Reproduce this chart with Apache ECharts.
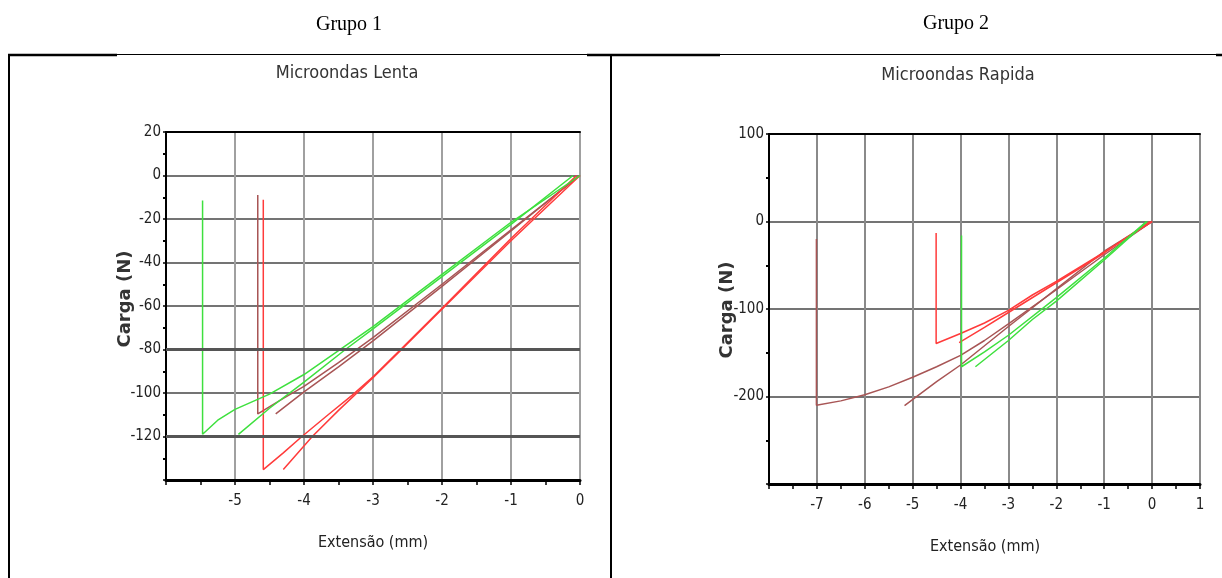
<!DOCTYPE html>
<html><head><meta charset="utf-8">
<script src="https://cdn.jsdelivr.net/npm/echarts@6/dist/echarts.min.js"></script>
<style>html,body{margin:0;padding:0;background:#fff}#c{width:1222px;height:578px}</style>
</head><body><div id="c"></div>
<script>
// ---- Data: Microondas Lenta (Grupo 1) [extensão mm, carga N] ----
const lentaGreenA = [[0,0],[-1,-21.5],[-2,-45.5],[-3,-69.5],[-3.5,-80.5],[-4,-91.5],[-4.5,-100.5],[-5,-107.5],[-5.25,-112.5],[-5.47,-119],[-5.47,-11.5]];
const lentaGreenB = [[-0.1,0],[-1,-22.5],[-2,-46.5],[-3,-70.5],[-3.4,-80],[-4,-95],[-4.5,-107],[-4.95,-119]];
const lentaBrownA = [[0,0],[-1,-25],[-2,-50],[-3,-74.5],[-3.5,-86],[-4,-97],[-4.3,-102.5],[-4.67,-109.6],[-4.67,-9]];
const lentaBrownB = [[-0.05,-1],[-1,-25.5],[-2,-51],[-3,-76],[-3.5,-88],[-4,-99.5],[-4.41,-109.6]];
const lentaRedA = [[-0.05,0],[-1,-29],[-2,-61],[-2.6,-80],[-3,-92.5],[-3.3,-101],[-3.65,-110],[-4.03,-120],[-4.3,-127.5],[-4.59,-135.2],[-4.59,-11.2]];
const lentaRedB = [[0,0],[-1,-30],[-2,-61.5],[-2.6,-80.5],[-3,-93],[-3.5,-108],[-3.88,-120],[-4.3,-135.2]];
// ---- Data: Microondas Rapida (Grupo 2) ----
const rapidaBrownA = [[0,0],[-1,-38],[-2,-78],[-3,-117],[-3.5,-136],[-4,-153],[-4.5,-166],[-5,-178],[-5.5,-189],[-6,-198],[-6.5,-205],[-7.01,-210],[-7.01,-20]];
const rapidaBrownB = [[0,0],[-1,-34],[-2,-77],[-3,-120],[-4,-164],[-4.5,-183],[-5.17,-210.5]];
const rapidaRedA = [[0,0],[-1,-35],[-2,-68.5],[-2.5,-84],[-3,-101.5],[-3.5,-116],[-4,-128],[-4.51,-139.5],[-4.51,-13]];
const rapidaRedB = [[-0.05,0],[-1,-36],[-2,-70],[-3,-104],[-3.5,-121],[-4.03,-138.4]];
const rapidaGreenA = [[-0.12,0],[-1,-42],[-2,-87],[-3,-130],[-3.5,-149],[-3.98,-166],[-3.98,-16]];
const rapidaGreenB = [[-0.1,0],[-1,-44],[-2,-91],[-2.5,-112],[-3,-136],[-3.69,-166]];
// ---- Texts ----
const groupTitles = ['Grupo 1','Grupo 2'];
const chartTitles = ['Microondas Lenta','Microondas Rapida'];
const xName = 'Extensão (mm)';
const yName = 'Carga (N)';
const lentaThickLines = [-80,-120];

const GREEN = '#3ee03e', RED = '#ff3b3b', BROWN = '#a85555';
const NARROW = "'Liberation Sans Narrow','DejaVu Sans Condensed','DejaVu Sans',sans-serif";

function hideMin(min){ return function(v){ return v === min ? '' : String(v); }; }

function xAx(gi, min, max, splitColor){
  return {type:'value', gridIndex:gi, min:min, max:max, interval:1, position:'bottom',
    axisLine:{show:true, onZero:false, lineStyle:{color:'#000', width:3}},
    axisTick:{show:true, length:5, lineStyle:{color:'#000', width:1.5}},
    minorTick:{show:true, splitNumber:2, length:5, lineStyle:{color:'#000', width:1.5}},
    splitLine:{show:true, lineStyle:{color:splitColor, width:2}},
    axisLabel:{margin:14, color:'#222', fontFamily:NARROW, fontSize:15, formatter:hideMin(min)}};
}
function xTop(gi, min, max){
  return {type:'value', gridIndex:gi, min:min, max:max, interval:1, position:'top',
    axisLine:{show:true, onZero:false, lineStyle:{color:'#000', width:2}},
    axisTick:{show:false}, axisLabel:{show:false}, splitLine:{show:false}};
}
function yAx(gi, min, max, interval, splitColor){
  return {type:'value', gridIndex:gi, min:min, max:max, interval:interval,
    axisLine:{show:true, onZero:false, lineStyle:{color:'#000', width:2}},
    axisTick:{show:true, length:3, lineStyle:{color:'#000', width:1.5}},
    minorTick:{show:true, splitNumber:2, length:3, lineStyle:{color:'#000', width:2}},
    splitLine:{show:true, lineStyle:{color:splitColor, width:2}},
    axisLabel:{margin:5, color:'#222', fontFamily:NARROW, fontSize:15, formatter:hideMin(min)}};
}
function line(data, color, xi, yi, extra){
  return Object.assign({type:'line', data:data, xAxisIndex:xi, yAxisIndex:yi, showSymbol:false, symbol:'none',
    lineStyle:{color:color, width:1.5}, itemStyle:{color:color}, silent:true, animation:false}, extra||{});
}

const option = {
  animation:false,
  backgroundColor:'#fff',
  grid:[
    {left:166, top:132, width:414, height:348},
    {left:769, top:134, width:431, height:350}
  ],
  xAxis:[ xAx(0,-6,0,'#a0a0a0'), xTop(0,-6,0), xAx(1,-8,1,'#8a8a8a'), xTop(1,-8,1) ],
  yAxis:[ yAx(0,-140,20,20,'#747474'), yAx(1,-300,100,100,'#747474') ],
  series:[
    line(lentaBrownA, BROWN, 0, 0, {markLine:{silent:true, symbol:'none', label:{show:false},
      lineStyle:{color:'#555', width:3, type:'solid'}, data:lentaThickLines.map(v=>({yAxis:v}))}}),
    line(lentaBrownB, BROWN, 0, 0),
    line(lentaRedA, RED, 0, 0),
    line(lentaRedB, RED, 0, 0),
    line(lentaGreenA, GREEN, 0, 0),
    line(lentaGreenB, GREEN, 0, 0),
    line(rapidaBrownA, BROWN, 2, 1),
    line(rapidaBrownB, BROWN, 2, 1),
    line(rapidaRedA, RED, 2, 1),
    line(rapidaRedB, RED, 2, 1),
    line(rapidaGreenA, GREEN, 2, 1),
    line(rapidaGreenB, GREEN, 2, 1)
  ],
  graphic:[
    // table frame
    {type:'line', shape:{x1:8, y1:55, x2:117, y2:55}, style:{stroke:'#000', lineWidth:2.5}},
    {type:'line', shape:{x1:117, y1:54.5, x2:587, y2:54.5}, style:{stroke:'#000', lineWidth:1}},
    {type:'line', shape:{x1:587, y1:55, x2:720, y2:55}, style:{stroke:'#000', lineWidth:2.5}},
    {type:'line', shape:{x1:720, y1:54.5, x2:1216, y2:54.5}, style:{stroke:'#000', lineWidth:1}},
    {type:'line', shape:{x1:1216, y1:55, x2:1222, y2:55}, style:{stroke:'#000', lineWidth:2.5}},
    {type:'line', shape:{x1:9, y1:54, x2:9, y2:578}, style:{stroke:'#000', lineWidth:2}},
    {type:'line', shape:{x1:611, y1:54, x2:611, y2:578}, style:{stroke:'#000', lineWidth:2}},
    // group titles
    {type:'text', x:349, y:25, style:{text:groupTitles[0], font:"20px 'Liberation Serif',serif", fill:'#000', textAlign:'center', textVerticalAlign:'middle'}},
    {type:'text', x:956, y:24, style:{text:groupTitles[1], font:"20px 'Liberation Serif',serif", fill:'#000', textAlign:'center', textVerticalAlign:'middle'}},
    // chart titles
    {type:'text', x:347, y:73, style:{text:chartTitles[0], font:"18px "+NARROW, fill:'#333', textAlign:'center', textVerticalAlign:'middle'}},
    {type:'text', x:958, y:75, style:{text:chartTitles[1], font:"18px "+NARROW, fill:'#333', textAlign:'center', textVerticalAlign:'middle'}},
    // axis names
    {type:'text', x:373, y:543, style:{text:xName, font:"16px "+NARROW, fill:'#222', textAlign:'center', textVerticalAlign:'middle'}},
    {type:'text', x:985, y:547, style:{text:xName, font:"16px "+NARROW, fill:'#222', textAlign:'center', textVerticalAlign:'middle'}},
    {type:'text', x:125, y:299, rotation:Math.PI/2, style:{text:yName, font:"bold 18px 'DejaVu Sans',sans-serif", fill:'#333', textAlign:'center', textVerticalAlign:'middle'}},
    {type:'text', x:727, y:310, rotation:Math.PI/2, style:{text:yName, font:"bold 18px 'DejaVu Sans',sans-serif", fill:'#333', textAlign:'center', textVerticalAlign:'middle'}}
  ]
};
const chart = echarts.init(document.getElementById('c'), null, {renderer:'canvas'});
chart.setOption(option);
</script></body></html>
